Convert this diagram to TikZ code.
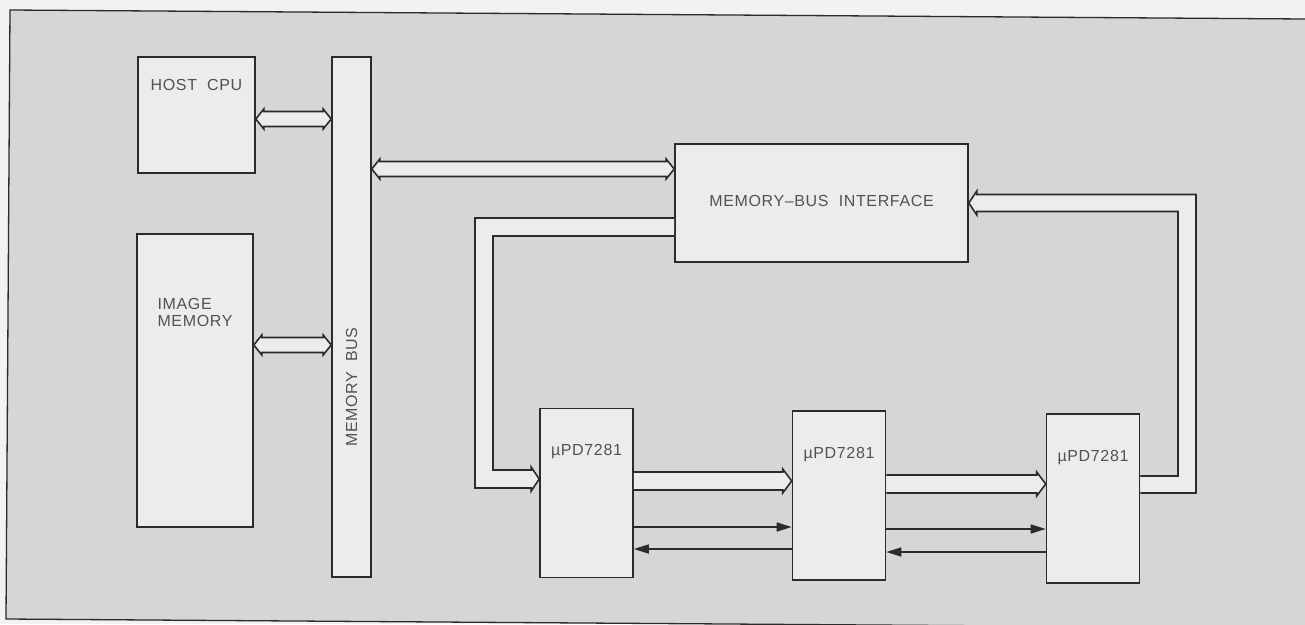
\documentclass[tikz,border=0pt]{standalone}
\usepackage{fontspec}
\setmainfont[LetterSpace=4]{Liberation Sans}
\usetikzlibrary{calc,arrows.meta}
\definecolor{paper}{gray}{0.95}
\definecolor{panel}{gray}{0.84}
\definecolor{boxfill}{gray}{0.925}
\definecolor{ink}{gray}{0.17}
\definecolor{lettering}{gray}{0.32}
\tikzset{
  blk/.style={draw=ink,fill=boxfill,line width=1.6pt,inner sep=0pt},
  lbl/.style={text=lettering,font=\fontsize{16}{17}\selectfont,inner sep=0pt},
  bus/.style={draw=ink,fill=boxfill,line width=1.6pt,line join=miter},
  sig/.style={draw=ink,line width=1.5pt,-{Triangle[length=15pt,width=9pt]}},
}
% wide bus, heads at both ends
\newcommand{\dblbus}[2]{%
  \filldraw[bus] let \p1=#1, \p2=#2 in
    (\x1,\y1) -- (\x1+8pt,\y1+10pt) -- (\x1+8pt,\y1+7.5pt)
    -- (\x2-8pt,\y1+7.5pt) -- (\x2-8pt,\y1+10pt) -- (\x2,\y1)
    -- (\x2-8pt,\y1-10pt) -- (\x2-8pt,\y1-7.5pt)
    -- (\x1+8pt,\y1-7.5pt) -- (\x1+8pt,\y1-10pt) -- cycle;}
% wide bus, head at right end only
\newcommand{\onebus}[2]{%
  \filldraw[bus] let \p1=#1, \p2=#2 in
    (\x1,\y1+9pt) -- (\x2-9pt,\y1+9pt) -- (\x2-9pt,\y1+12pt) -- (\x2,\y1)
    -- (\x2-9pt,\y1-12pt) -- (\x2-9pt,\y1-9pt) -- (\x1,\y1-9pt);}
\begin{document}
\begin{tikzpicture}[x=1pt,y=-1pt]
   \useasboundingbox (0,0) rectangle (1305,624);
   %frame
   \fill[paper] (0,0) rectangle (1305,624);
   \filldraw[fill=panel,draw=ink,line width=1.3pt] (1305,19) -- (10,10) -- (6,619) -- (1305,628);
   %blocks
   \node[blk,minimum width=117pt,minimum height=116pt] (cpu) at (196.5,115) {};
   \node[blk,minimum width=116pt,minimum height=293pt] (mem) at (195,380.5) {};
   \node[blk,minimum width=39pt,minimum height=520pt] (bus) at (351.5,317) {};
   \node[blk,minimum width=293pt,minimum height=118pt] (mbi) at (821.5,203) {};
   \foreach \i/\x/\y in {1/586.5/493,2/839/495.5,3/1093/498.5}
     \node[blk,minimum width=93pt,minimum height=169pt] (chip\i) at (\x,\y) {};
   %labels
   \node[lbl] (cputxt) at ($(cpu.north)+(0,29)$) {HOST\ \ CPU};
   \node[lbl,align=left] (memtxt) at ($(mem.center)+(0,-68)$) {IMAGE\\MEMORY};
   \node[lbl,rotate=90] (bustxt) at ($(bus.center)+(0,70)$) {MEMORY\ \ BUS};
   \node[lbl] (mbitxt) at ($(mbi.center)+(0,-2)$) {MEMORY--BUS\ \ INTERFACE};
   \foreach \i in {1,2,3}
     \node[lbl] (chiptxt\i) at ($(chip\i.north)+(0,44)$) {µPD7281};
   %memory bus
   \dblbus{($(cpu.east)+(0,4)$)}{($(bus.west |- cpu.east)+(0,4)$)}
   \dblbus{($(mem.east)+(0,-35.5)$)}{($(bus.west |- mem.east)+(0,-35.5)$)}
   \dblbus{($(bus.east |- mbi.west)+(0,-34)$)}{($(mbi.west)+(0,-34)$)}
   %interface to first chip
   \filldraw[bus] ($(mbi.west)+(0,15)$) -- (475,218) -- (475,488)
     -- ($(chip1.west)+(-8,-5)$) -- ($(chip1.west)+(-8,-2)$) -- ($(chip1.west)+(0,-14)$)
     -- ($(chip1.west)+(-8,-26)$) -- ($(chip1.west)+(-8,-23)$)
     -- (493,470) -- (493,236) -- ($(mbi.west)+(0,33)$);
   %last chip back to interface
   \filldraw[bus] ($(chip3.east)+(0,-5.5)$) -- (1196,493) -- (1196,194.5)
     -- ($(mbi.east)+(8,-8.5)$) -- ($(mbi.east)+(8,-12)$) -- (mbi.east)
     -- ($(mbi.east)+(8,12)$) -- ($(mbi.east)+(8,8.5)$)
     -- (1178,211.5) -- (1178,476) -- ($(chip3.east)+(0,-22.5)$);
   %ring
   \onebus{($(chip1.east)+(0,-12)$)}{($(chip2.west |- chip1.east)+(0,-12)$)}
   \onebus{($(chip2.east)+(0,-11.5)$)}{($(chip3.west |- chip2.east)+(0,-11.5)$)}
   \draw[sig] ($(chip1.east)+(0,34)$) -- ($(chip2.west |- chip1.east)+(0,34)$);
   \draw[sig] ($(chip2.west |- chip1.east)+(0,56)$) -- ($(chip1.east)+(0,56)$);
   \draw[sig] ($(chip2.east)+(0,33.5)$) -- ($(chip3.west |- chip2.east)+(0,33.5)$);
   \draw[sig] ($(chip3.west |- chip2.east)+(0,56.5)$) -- ($(chip2.east)+(0,56.5)$);
\end{tikzpicture}
\end{document}
